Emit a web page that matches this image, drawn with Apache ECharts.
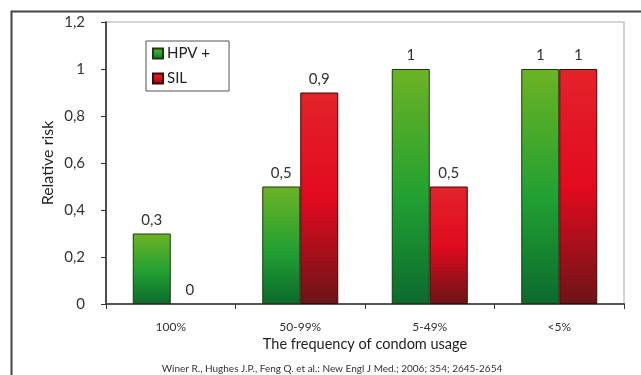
<!DOCTYPE html>
<html>
<head>
<meta charset="utf-8">
<script src="https://cdn.jsdelivr.net/npm/echarts@6/dist/echarts.min.js"></script>
<style>
html,body{margin:0;padding:0;background:#fff;}
#c{width:641px;height:375px;}
</style>
</head>
<body>
<div id="c"></div>
<script>
const categories = ['100%', '50-99%', '5-49%', '<5%'];
const hpvValues = [0.3, 0.5, 1, 1];
const silValues = [0, 0.9, 0.5, 1];
const seriesNames = ['HPV +', 'SIL'];
const yTicks = [0, 0.2, 0.4, 0.6, 0.8, 1, 1.2];
const footnote = 'Winer R., Hughes J.P., Feng Q. et al.: New Engl J Med.; 2006; 354; 2645-2654';

const FONT = 'Lato';
const fmt = v => String(v).replace('.', ',');

const greenGrad = new echarts.graphic.LinearGradient(0, 0, 0, 1, [
  {offset: 0, color: '#6db324'},
  {offset: 0.55, color: '#21a032'},
  {offset: 1, color: '#0c6a2e'}
]);
const redGrad = new echarts.graphic.LinearGradient(0, 0, 0, 1, [
  {offset: 0, color: '#e3232a'},
  {offset: 0.5, color: '#e20a1f'},
  {offset: 1, color: '#6c1417'}
]);

const toItems = (arr) => arr.map(v => v === 0 ? {value: v, itemStyle: {borderWidth: 0}} : v);

const chart = echarts.init(document.getElementById('c'), null, {renderer: 'canvas'});
chart.setOption({
  animation: false,
  textStyle: {fontFamily: FONT, color: '#333'},
  grid: {left: 106, top: 22, right: 17, bottom: 71, show: true, borderColor: '#c8c8c8', borderWidth: 1.5},
  legend: {
    orient: 'vertical', left: 146, top: 41,
    data: seriesNames,
    itemWidth: 10, itemHeight: 10, itemGap: 10,
    padding: [5, 19, 5, 6],
    borderColor: '#555', borderWidth: 1,
    textStyle: {fontFamily: FONT, fontSize: 15, color: '#222', padding: [0, 0, 0, -1]},
    icon: 'rect'
  },
  xAxis: {
    type: 'category', data: categories,
    axisLine: {lineStyle: {color: '#555', width: 2}},
    axisTick: {show: true, length: 5, inside: false, lineStyle: {color: '#333'}},
    axisLabel: {fontSize: 12, color: '#333', margin: 17, fontFamily: FONT},
    name: 'The frequency of condom usage', nameLocation: 'middle', nameGap: 33,
    nameMoveOverlap: false,
    nameTextStyle: {fontSize: 14.5, color: '#222', fontFamily: FONT}
  },
  yAxis: {
    type: 'value', min: 0, max: 1.2, interval: 0.2,
    axisLine: {show: true, lineStyle: {color: '#222', width: 1.5}},
    axisTick: {show: true, length: 5, lineStyle: {color: '#333'}},
    splitLine: {show: false},
    axisLabel: {fontSize: 15, color: '#333', margin: 21, fontFamily: FONT,
      formatter: v => { const t = yTicks.find(x => Math.abs(x - v) < 1e-6); return fmt(t !== undefined ? t : v); }},
    name: 'Relative risk', nameLocation: 'middle', nameGap: 50,
    nameMoveOverlap: false,
    nameTextStyle: {fontSize: 16, color: '#222', fontFamily: FONT}
  },
  series: [
    {
      name: seriesNames[0], type: 'bar', data: toItems(hpvValues),
      barWidth: 38, barGap: '0%',
      itemStyle: {color: greenGrad, borderColor: '#1c3a0e', borderWidth: 1},
      label: {show: true, position: 'top', distance: 6, fontSize: 15, color: '#333', fontFamily: FONT, formatter: p => fmt(p.value)}
    },
    {
      name: seriesNames[1], type: 'bar', data: toItems(silValues),
      barWidth: 38, barGap: '0%',
      itemStyle: {color: redGrad, borderColor: '#3a0808', borderWidth: 1},
      label: {show: true, position: 'top', distance: 6, fontSize: 15, color: '#333', fontFamily: FONT, formatter: p => fmt(p.value)}
    }
  ],
  graphic: [
    {type: 'rect', left: 9, top: 9, shape: {width: 700, height: 420}, style: {fill: 'none', stroke: '#444', lineWidth: 2}, silent: true, z: -1},
    {type: 'text', x: 332, y: 369, style: {text: footnote, fontSize: 10, fill: '#333', fontFamily: FONT, textAlign: 'center', textVerticalAlign: 'middle'}}
  ]
});
</script>
</body>
</html>
